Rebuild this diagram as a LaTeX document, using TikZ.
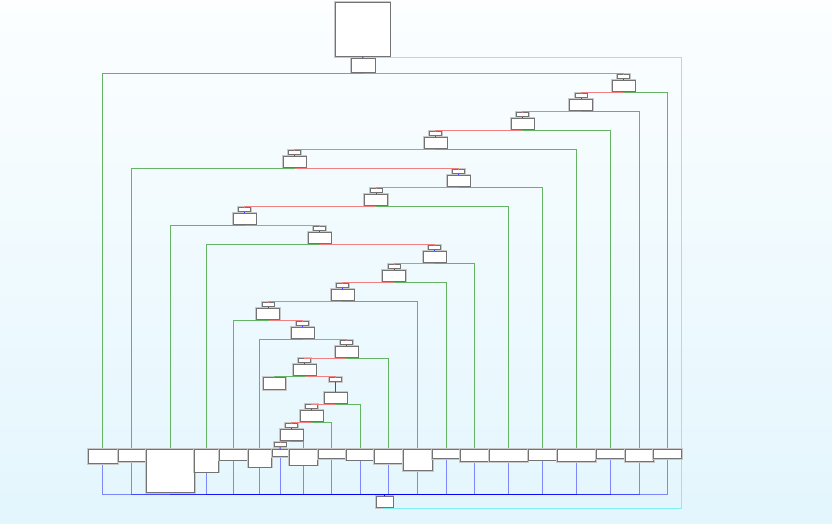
\documentclass[tikz,border=0pt]{standalone}
\begin{document}
\begin{tikzpicture}[x=1pt,y=-1pt,
  bx/.style={draw={rgb,255:red,115;green,115;blue,115},fill=white,line width=0.8pt,inner sep=0pt,
     preaction={draw={rgb,255:red,200;green,200;blue,200},line width=2.4pt}},
  tinyb/.style={bx,minimum width=12pt,minimum height=4pt,anchor=north},
  decb/.style={bx,minimum width=23pt,minimum height=11pt,anchor=north},
  rd/.style={draw={rgb,255:red,242;green,128;blue,128},line width=0.9pt},
  gr/.style={draw={rgb,255:red,100;green,180;blue,100},line width=0.9pt},
  bl/.style={draw=blue,line width=0.9pt,opacity=0.45},
  bs/.style={draw={rgb,255:red,60;green,60;blue,255},line width=0.9pt},
  cy/.style={draw={rgb,255:red,130;green,240;blue,240},line width=0.9pt}]
\shade[top color={rgb,255:red,252;green,254;blue,255},bottom color={rgb,255:red,227;green,246;blue,253}] (0,0) rectangle (832,524);
\useasboundingbox (0,0) rectangle (832,524);

% header, start, end
\node[bx,anchor=north,minimum width=55pt,minimum height=54pt] (hd) at (362.5,2) {};
\node[bx,anchor=north,minimum width=24pt,minimum height=14pt] (S) at (363,58) {};
\node[bx,anchor=north,minimum width=17pt,minimum height=11pt] (E) at (384.5,496) {};
\coordinate (ej) at (384.5,494.5);
\coordinate (cyc) at (681.5,508);

% terminal box
\node[bx,anchor=north west,minimum width=22pt,minimum height=12pt] (tm) at (263,377) {};

% bottom row: coordinates first (boxes drawn last)
\foreach \ii/\xa/\xb/\hh in {1/88/117/14,2/118/145/12,3/146/194/43,4/194/218/22.5,5/219/247/10.5,
  6/248/271/17.5,7/272/288/7,8/289/317/15.5,9/318/345/9,10/346/374/10.5,11/374/403/14,
  12/403/432/21,13/432/460/9,14/460/488/12,15/489/527/12,16/528/556/10.5,17/557/595/12,
  18/596/624/9,19/625/653/12,20/653/681/9}{
  \node[inner sep=0pt,anchor=north west,minimum width={\xb-\xa},minimum height=\hh] (b\ii) at (\xa,449) {};
}

% decisions
\foreach \ii/\cc/\ty/\by in {1/623.5/74/80,2/581/93/99,3/522.5/112/118,4/435.5/131/137,5/294.5/150/156,
  6/458.5/169/175,7/376/188/194,8/244.5/207/213,9/319.5/226/232,10/434.5/245/251,11/394/264/270,
  12/342.5/283/289,13/268/302/308,14/302.5/321/327,15/346.5/340/346,16/304.5/358/364,
  17/335.5/377/392,18/311.5/404/410,19/291.5/423/429}{
  \node[tinyb] (t\ii) at (\cc,\ty) {};
  \node[decb] (d\ii) at (\cc,\by) {};
}
\node[tinyb] (t20) at (280,442) {};

% blue merges
\foreach \ii in {1,...,20}{
  \draw[bl] (b\ii.south) |- (ej) -- (E.north);
}

% cyan loop
\draw[cy] (S.north) -- ++(0,-1) -| (cyc) -| (E.south);

% red chain
\draw[rd] (S.south) -- ++(0,1) -| (t1.north);
\foreach \fa/\fb in {1/2,2/3,3/4,4/5,5/6,6/7,7/8,8/9,9/10,10/11,11/12,12/13,13/14,14/15,15/16,16/17,17/18,18/19,19/20}{
  \draw[rd] (d\fa.south) -- ++(0,1) -| (t\fb.north);
}

% green exits
\draw[gr] (S.south) -- ++(0,1) -| (b1.north);
\foreach \fa/\fb in {d1/b20,d2/b19,d3/b18,d4/b17,d5/b2,d6/b16,d7/b15,d8/b3,d9/b4,d10/b14,
  d11/b13,d12/b12,d13/b5,d14/b6,d15/b11,d16/tm,d17/b10,d18/b9,d19/b8}{
  \draw[gr] (\fa.south) -- ++(0,1) -| (\fb.north);
}

% bottom-row boxes drawn on top
\foreach \ii in {1,...,20}{
  \draw[draw={rgb,255:red,200;green,200;blue,200},line width=2.4pt] (b\ii.north west) rectangle (b\ii.south east);
  \draw[draw={rgb,255:red,115;green,115;blue,115},fill=white,line width=0.8pt] (b\ii.north west) rectangle (b\ii.south east);
}

% short blue links
\draw[bs] (hd.south) -- (S.north);
\foreach \ii in {1,...,19}{
  \draw[bs] (t\ii.south) -- (d\ii.north);
}
\draw[bs] (t20.south) -- (b7.north);
\end{tikzpicture}
\end{document}
